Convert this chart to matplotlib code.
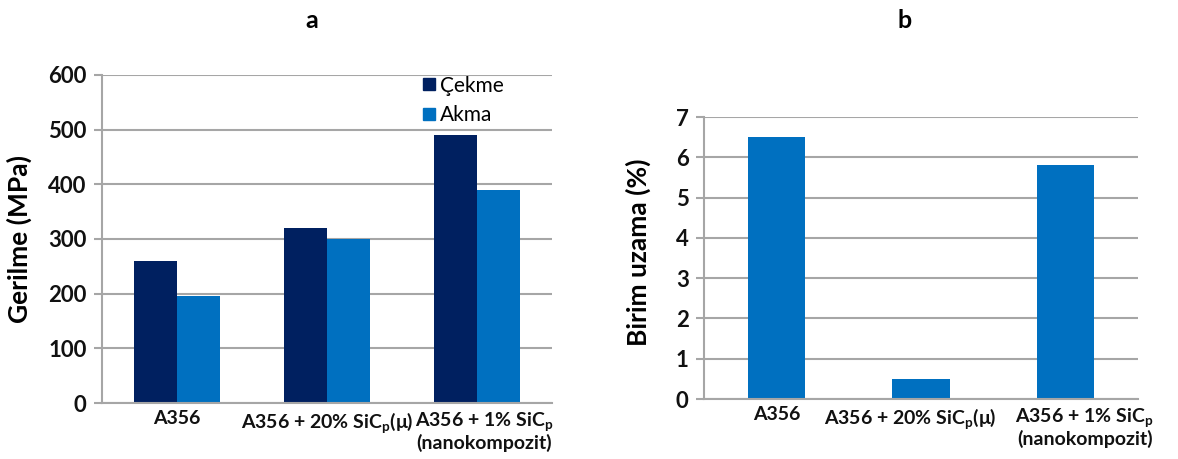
import matplotlib
matplotlib.use("Agg")
import matplotlib.pyplot as plt
import matplotlib.transforms as mtransforms
import numpy as np
from matplotlib.lines import Line2D

plt.rcParams['font.family'] = ['Lato', 'DejaVu Sans']
plt.rcParams['mathtext.fontset'] = 'custom'
plt.rcParams['mathtext.rm'] = 'Lato:bold'
plt.rcParams['mathtext.it'] = 'Lato:bold'
plt.rcParams['mathtext.bf'] = 'Lato:bold'

categories = ["A356", "A356 + 20% SiC$_\\mathrm{p}$(μ)", "A356 + 1% SiC$_\\mathrm{p}$\n(nanokompozit)"]
cekme = [260, 320, 490]
akma = [195, 300, 390]
uzama = [6.5, 0.5, 5.8]
series_names = ["Çekme", "Akma"]
yticks_a = [0, 100, 200, 300, 400, 500, 600]
yticks_b = [0, 1, 2, 3, 4, 5, 6, 7]

c_dark = "#002060"
c_light = "#0070C0"
grid_c = "#A6A6A6"

W, H = 1178, 459
fig = plt.figure(figsize=(W / 100, H / 100), dpi=100)

def style(ax, yticks, shifts):
    ax.set_yticks(yticks)
    ax.set_ylim(yticks[0], yticks[-1])
    ax.set_xlim(-0.5, 2.5)
    for s in ["top", "right"]:
        ax.spines[s].set_visible(False)
    for s in ["left", "bottom"]:
        ax.spines[s].set_color(grid_c)
        ax.spines[s].set_linewidth(1.5)
    ax.yaxis.grid(True, color=grid_c, linewidth=1.5)
    ax.set_axisbelow(True)
    ax.tick_params(axis='y', length=6, width=1.5, color=grid_c, labelsize=16, pad=5)
    ax.tick_params(axis='x', length=0, labelsize=14, pad=5)
    for lab in ax.get_yticklabels() + ax.get_xticklabels():
        lab.set_fontweight('bold')
        lab.set_color('#111111')
    for lab, dx in zip(ax.get_xticklabels(), shifts):
        lab.set_linespacing(1.05)
        lab.set_transform(lab.get_transform() +
                          mtransforms.ScaledTranslation(dx / 100, 0, fig.dpi_scale_trans))

x = np.arange(len(categories))

# Left chart
ax1 = fig.add_axes([102 / W, (H - 403) / H, 450 / W, 328 / H])
bw = 0.287
ax1.bar(x - bw / 2, cekme, bw, color=c_dark, label=series_names[0])
ax1.bar(x + bw / 2, akma, bw, color=c_light, label=series_names[1])
ax1.set_xticks(x)
ax1.set_xticklabels(categories)
style(ax1, yticks_a, [0, 0, 7])
ax1.set_ylabel("Gerilme (MPa)", fontsize=19, fontweight='bold')
ax1.yaxis.set_label_coords(-0.155, 0.5)
handles = [Line2D([], [], marker='s', linestyle='', color=c_dark, markersize=8),
           Line2D([], [], marker='s', linestyle='', color=c_light, markersize=8)]
leg = ax1.legend(handles, series_names, loc='upper left', bbox_to_anchor=(0.672, 1.055),
                 frameon=False, fontsize=15, handlelength=0.6, handletextpad=0.2,
                 labelspacing=0.45)

# Right chart
ax2 = fig.add_axes([704 / W, (H - 399) / H, 434 / W, 282 / H])
ax2.bar(x, uzama, 0.395, color=c_light)
ax2.set_xticks(x)
ax2.set_xticklabels(categories)
style(ax2, yticks_b, [0, -11, 19])
ax2.set_ylabel("Birim uzama (%)", fontsize=19, fontweight='bold')
ax2.yaxis.set_label_coords(-0.122, 0.52)

fig.text(312 / W, 1 - 20 / H, "a", fontsize=18, fontweight='bold', ha='center', va='center')
fig.text(905 / W, 1 - 20 / H, "b", fontsize=18, fontweight='bold', ha='center', va='center')

fig.savefig("out.png", dpi=100)
